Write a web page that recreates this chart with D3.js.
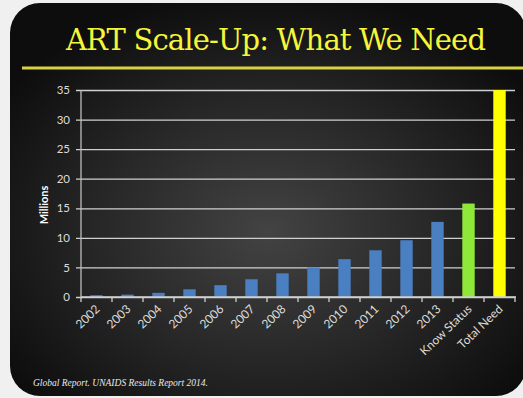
<!DOCTYPE html>
<html>
<head>
<meta charset="utf-8">
<script src="https://cdn.jsdelivr.net/npm/d3@7"></script>
<style>
  html, body { margin: 0; padding: 0; background: #f0f0f0; }
  svg { display: block; }
</style>
</head>
<body>
<svg id="slide" width="523" height="398"></svg>
<script>
const categories = ["2002", "2003", "2004", "2005", "2006", "2007", "2008", "2009",
  "2010", "2011", "2012", "2013", "Know Status", "Total Need"];
const millions = [0.3, 0.4, 0.7, 1.3, 2.0, 3.0, 4.0, 5.0, 6.4, 7.9, 9.6, 12.7, 15.8, 35];
const yTicks = [0, 5, 10, 15, 20, 25, 30, 35];
const barColors = { "Know Status": "#8fe838", "Total Need": "#ffff00" };

const svg = d3.select("#slide");
const defs = svg.append("defs");

const bg = defs.append("radialGradient")
  .attr("id", "bg").attr("cx", "50%").attr("cy", "58%").attr("r", "62%");
bg.append("stop").attr("offset", "0%").attr("stop-color", "#434343");
bg.append("stop").attr("offset", "55%").attr("stop-color", "#262626");
bg.append("stop").attr("offset", "100%").attr("stop-color", "#0d0d0d");

const glow = defs.append("filter").attr("id", "glow")
  .attr("x", "-5%").attr("y", "-200%").attr("width", "110%").attr("height", "500%");
glow.append("feGaussianBlur").attr("stdDeviation", 1.2);

// slide background with rounded corners
svg.append("rect")
  .attr("x", 10).attr("y", 3)
  .attr("width", 516).attr("height", 393)
  .attr("rx", 30).attr("ry", 30)
  .attr("fill", "url(#bg)");

// title
svg.append("text")
  .attr("x", 276).attr("y", 50)
  .attr("text-anchor", "middle")
  .attr("font-family", "DejaVu Serif, Liberation Serif, serif")
  .attr("font-size", 29)
  .attr("textLength", 420)
  .attr("fill", "#f5f53a")
  .text("ART Scale-Up: What We Need");

// underline
svg.append("line")
  .attr("x1", 22).attr("x2", 523).attr("y1", 68).attr("y2", 68)
  .attr("stroke", "#fffbb0").attr("stroke-width", 5).attr("opacity", 0.5)
  .attr("filter", "url(#glow)");
svg.append("line")
  .attr("x1", 22).attr("x2", 523).attr("y1", 68).attr("y2", 68)
  .attr("stroke", "#d9d142").attr("stroke-width", 3);

// chart
const x = d3.scaleBand()
  .domain(categories)
  .range([81, 515])
  .paddingInner(0.6)
  .paddingOuter(0.3);
const y = d3.scaleLinear()
  .domain([0, 35])
  .range([297, 90]);

const labelFont = "Lato, Open Sans, sans-serif";

// gridlines + y labels
const yAxis = svg.append("g")
  .attr("transform", "translate(81,0)")
  .call(d3.axisLeft(y).tickValues(yTicks).tickSize(-434).tickSizeOuter(0).tickPadding(11));
yAxis.select(".domain").remove();
yAxis.selectAll(".tick line")
  .attr("x1", -5).attr("stroke", "#d0d0d0").attr("stroke-width", 1.3);
yAxis.selectAll(".tick text")
  .attr("fill", "#dcdcdc").attr("font-family", labelFont).attr("font-size", 11.5);

// axis line
svg.append("line")
  .attr("x1", 81).attr("x2", 81).attr("y1", 90).attr("y2", 297)
  .attr("stroke", "#bdbdbd").attr("stroke-width", 1.3);

// bars
svg.append("g").selectAll("rect")
  .data(categories)
  .join("rect")
  .attr("x", d => x(d))
  .attr("width", x.bandwidth())
  .attr("y", (d, i) => y(millions[i]))
  .attr("height", (d, i) => y(0) - y(millions[i]))
  .attr("fill", d => barColors[d] || "#4a7fc1");

// x axis baseline and boundary ticks
svg.append("line")
  .attr("x1", 81).attr("x2", 516).attr("y1", 297).attr("y2", 297)
  .attr("stroke", "#d0d0d0").attr("stroke-width", 1.3);
const bounds = categories.map(d => x(d) - (x.step() - x.bandwidth()) / 2)
  .concat([x.range()[1]]);
svg.append("g").selectAll("line")
  .data(bounds)
  .join("line")
  .attr("x1", d => d).attr("x2", d => d)
  .attr("y1", 297).attr("y2", 302)
  .attr("stroke", "#d0d0d0").attr("stroke-width", 1.3);

// x labels
svg.append("g").selectAll("text")
  .data(categories)
  .join("text")
  .attr("transform", d => `translate(${x(d) + x.bandwidth() / 2 + 4},${310}) rotate(-44)`)
  .attr("text-anchor", "end")
  .attr("font-family", labelFont)
  .attr("font-size", 12)
  .attr("fill", "#dcdcdc")
  .text(d => d);

// y title
svg.append("text")
  .attr("transform", "translate(48,205) rotate(-90)")
  .attr("text-anchor", "middle")
  .attr("font-family", labelFont)
  .attr("font-weight", "bold")
  .attr("font-size", 11)
  .attr("fill", "#ffffff")
  .text("Millions");

// source
svg.append("text")
  .attr("x", 33).attr("y", 386)
  .attr("font-family", "Liberation Serif, serif")
  .attr("font-style", "italic")
  .attr("font-size", 9.5)
  .attr("fill", "#e8e8e8")
  .text("Global Report. UNAIDS Results Report 2014.");
</script>
</body>
</html>
